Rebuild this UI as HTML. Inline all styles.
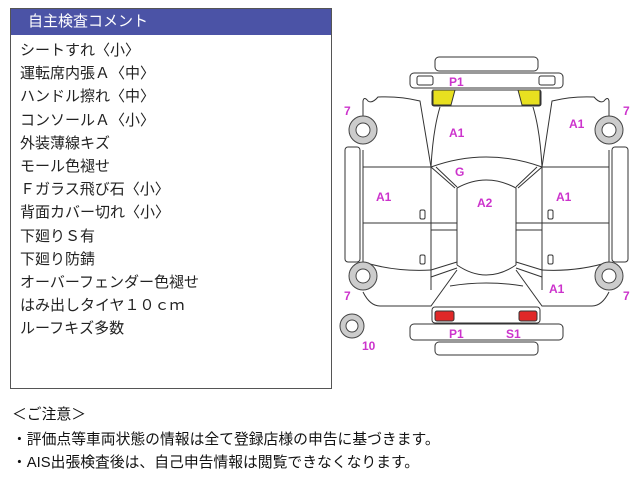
<!DOCTYPE html>
<html><head><meta charset="utf-8"><style>
body{margin:0;width:640px;height:480px;background:#fff;font-family:"Liberation Sans","Noto Sans CJK JP",sans-serif;position:relative;overflow:hidden}
#box{position:absolute;left:10px;top:8px;width:320px;height:379px;border:1px solid #555;}
#hd{height:26px;background:#4b53a6;color:#fff;font-size:15px;line-height:26px;padding-left:17px}
#ls{padding:4px 0 0 9px;font-size:15px;line-height:23.2px;color:#222}
.n{position:absolute;left:12px;font-size:14.8px;color:#111}
</style></head><body>
<div id="box"><div id="hd">自主検査コメント</div><div id="ls">
シートすれ〈小〉<br>運転席内張Ａ〈中〉<br>ハンドル擦れ〈中〉<br>コンソールＡ〈小〉<br>外装薄線キズ<br>モール色褪せ<br>Ｆガラス飛び石〈小〉<br>背面カバー切れ〈小〉<br>下廻りＳ有<br>下廻り防錆<br>オーバーフェンダー色褪せ<br>はみ出しタイヤ１０ｃｍ<br>ルーフキズ多数</div></div>
<div class="n" style="top:403px">＜ご注意＞</div>
<div class="n" style="top:428px">・評価点等車両状態の情報は全て登録店様の申告に基づきます。</div>
<div class="n" style="top:451px">・AIS出張検査後は、自己申告情報は閲覧できなくなります。</div>
<svg style="position:absolute;left:0;top:0" width="640" height="480" fill="none" stroke="#333" stroke-width="1">
<rect x="435" y="57" width="103" height="14" rx="4"/>
<rect x="410" y="73" width="153" height="15" rx="4"/>
<rect x="417" y="76" width="16" height="9" rx="2"/><rect x="539" y="76" width="16" height="9" rx="2"/>
<rect x="432" y="90" width="109" height="16" rx="2"/>
<path d="M433 90H455L451 105H433Z M518 90H540V105H522Z" fill="#e8e020"/>
<rect x="432" y="307" width="108" height="16" rx="3"/>
<rect x="435" y="311" width="19" height="10" rx="2" fill="#e02828"/><rect x="519" y="311" width="18" height="10" rx="2" fill="#e02828"/>
<rect x="410" y="324" width="153" height="16" rx="4"/>
<rect x="435" y="342" width="103" height="13" rx="4"/>
<rect x="345" y="147" width="15" height="115" rx="3"/><rect x="612" y="147" width="16" height="115" rx="3"/>
<path d="M363 116V101Q364 96 368 101Q372 104 378 97Q400 96 420 101L431 167"/>
<path d="M440 107Q433 130 431 167V290"/>
<path d="M533 107Q540 130 542 167V290"/>
<path d="M609 116V101Q608 96 604 101Q600 104 594 97Q572 96 552 101L542 167"/>
<path d="M363 167H431M363 223H431M363 262Q395 272 431 270M363 292Q370 306 380 306H431L457 270"/>
<path d="M609 167H542M609 223H542M609 262Q577 272 542 270M609 292Q602 306 592 306H542L516 270"/>
<path d="M363 150V262M609 150V262"/>
<path d="M431 167Q486 147 542 167M431 167L455 188M542 167L518 188M436 167L457 187M537 167L516 187"/>
<path d="M457 188Q486 172 516 188V265M457 188V265M457 265Q486 285 516 265"/>
<path d="M431 223H457M431 230H457M516 223H542M516 230H542"/>
<path d="M431 270L457 262M431 277L457 268M542 270L516 262M542 277L516 268"/>
<path d="M450 286Q486 280 523 286"/>
<rect x="420" y="210" width="5" height="9" rx="1.5"/><rect x="420" y="255" width="5" height="9" rx="1.5"/>
<rect x="548" y="210" width="5" height="9" rx="1.5"/><rect x="548" y="255" width="5" height="9" rx="1.5"/>
<g fill="#ccc" stroke="#444"><circle cx="363" cy="130" r="14"/><circle cx="609" cy="130" r="14"/><circle cx="363" cy="276" r="14"/><circle cx="609" cy="276" r="14"/><circle cx="352" cy="326" r="12"/></g>
<g fill="#fff" stroke="#444"><circle cx="363" cy="130" r="7"/><circle cx="609" cy="130" r="7"/><circle cx="363" cy="276" r="7"/><circle cx="609" cy="276" r="7"/><circle cx="352" cy="326" r="6"/></g>
<g fill="#cc33cc" stroke="none" font-family="Liberation Sans" font-weight="bold" font-size="12">
<text x="449" y="86">P1</text><text x="449" y="137">A1</text><text x="569" y="128">A1</text>
<text x="455" y="176">G</text><text x="376" y="201">A1</text><text x="477" y="207">A2</text><text x="556" y="201">A1</text>
<text x="549" y="293">A1</text><text x="449" y="338">P1</text><text x="506" y="338">S1</text>
<text x="344" y="115">7</text><text x="623" y="115">7</text><text x="344" y="300">7</text><text x="623" y="300">7</text><text x="362" y="350">10</text>
</g></svg>
</body></html>
